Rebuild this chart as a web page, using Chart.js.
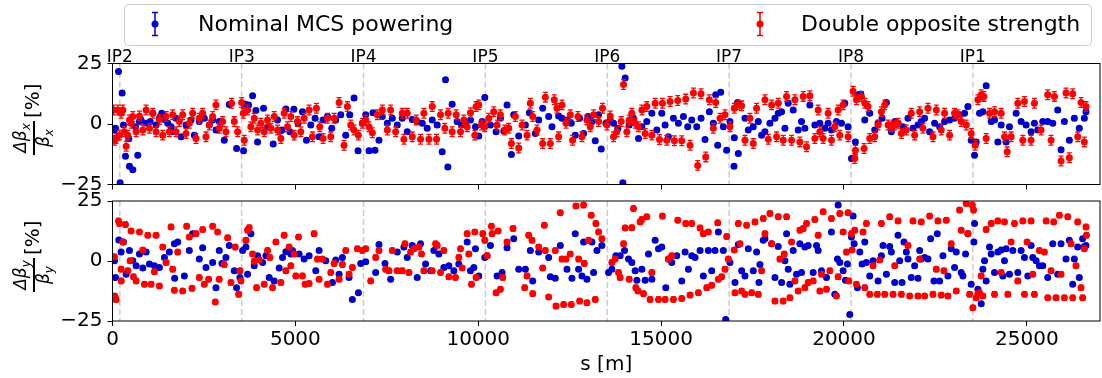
<!DOCTYPE html>
<html>
<head>
<meta charset="utf-8">
<script src="https://cdn.jsdelivr.net/npm/chart.js@4.4.1/dist/chart.umd.min.js"></script>
<style>
  html, body { margin: 0; padding: 0; background: #fff; overflow: hidden; width: 1102px; height: 378px; }
  canvas { position: absolute; left: 0; }
  #topChart { top: 0; }
  #botChart { top: 180px; }
</style>
</head>
<body>
<canvas id="topChart" width="1104" height="215"></canvas>
<canvas id="botChart" width="1104" height="198"></canvas>
<script>
// IP positions along the ring [m] and their labels
const ipLabels = ['IP2', 'IP3', 'IP4', 'IP5', 'IP6', 'IP7', 'IP8', 'IP1'];
const ipPos = [200, 3532, 6864, 10196, 13528, 16860, 20192, 23524];

const seriesNames = ['Nominal MCS powering', 'Double opposite strength'];

// axis ticks
const sTicks = [0, 5000, 10000, 15000, 20000, 25000];
const betaTicks = [-25, 0, 25];

// horizontal beta-beating, [s, value %]
const nominalX = [
  [54,-2.5],[82,-1.8],[164,21.7],[209,-24.3],[264,12.8],[300,-0.4],[355,-13.3],[446,-6.1],[464,-17.5],[555,-18.9],
  [628,-1.1],[691,-12.9],[737,1],[782,1.7],[919,0.3],[1028,1],[1101,4.4],[1192,-0.4],[1283,2.4],[1346,4.4],
  [1419,1.9],[1510,0.3],[1601,-1.1],[1646,-3.2],[1737,2.4],[1874,-5.3],[2010,-0.4],[2147,1.7],[2238,-4.6],[2374,1],
  [2511,2.4],[2647,-0.4],[2738,1.7],[2829,-2.5],[2920,1],[3056,-6.7],[3193,8.1],[3393,-10.1],[3584,-11.1],[3630,8.2],
  [3720,7.9],[3830,11.7],[3920,5.6],[3966,-7.4],[4130,6.5],[4240,-1.1],[4394,-8.3],[4512,1.7],[4630,-2.5],[4740,6.2],
  [4850,-3.2],[4958,6.1],[5076,0.3],[5194,5.1],[5303,-6.7],[5421,-0.4],[5540,2.4],[5650,-5.3],[5758,1.7],[5877,3.1],
  [5995,-1.8],[6104,1.7],[6240,3.8],[6377,-4.6],[6486,3.8],[6604,10.7],[6713,-11.1],[6832,0.3],[6923,3.8],[7014,-11.1],
  [7123,4.7],[7177,-10.8],[7286,-6.7],[7377,3.1],[7514,0.3],[7650,2.4],[7786,-0.4],[7923,2.4],[8059,-3.2],[8196,1.9],
  [8332,1],[8469,0.3],[8605,-1.8],[8742,1.7],[8878,-0.4],[9014,-11.5],[9105,18.3],[9169,-17.8],[9287,8.2],[9424,1],
  [9542,-0.4],[9651,0.3],[9788,1.7],[9924,-1.1],[10015,-5],[10106,1],[10179,11],[10333,-0.4],[10488,-3.2],[10607,2.4],
  [10698,-2.9],[10788,7.9],[10907,-12.6],[10970,3.8],[11107,-5],[11289,-0.4],[11398,4.7],[11562,-3.9],[11653,1.7],[11762,6.5],
  [11925,3.1],[12016,-1.1],[12198,3.3],[12290,2.4],[12426,1.7],[12544,0.3],[12653,-4.6],[12771,2.4],[12881,-3.9],[12999,3.1],
  [13108,1],[13199,-6.9],[13290,3.8],[13363,-10.3],[13490,0.3],[13608,1.7],[13700,0.3],[13818,-1.8],[13927,23.9],[13954,-24.3],
  [14018,19],[14127,-0.4],[14245,2.4],[14382,-6],[14473,-1.1],[14609,1],[14746,4.4],[14882,-2.5],[15018,4.4],[15109,-0.4],
  [15200,-5.3],[15337,2.4],[15473,0.3],[15610,3.1],[15728,-1.1],[15837,1.7],[15974,-1.1],[16092,2.4],[16201,-6.4],[16319,5.1],
  [16428,0.3],[16492,12.1],[16547,-8.8],[16629,13.1],[16701,-1.1],[16792,-10.8],[16883,1],[16992,-17.5],[17001,-5.7],[17092,8.9],
  [17111,-12.2],[17293,2.4],[17384,-2.5],[17520,-1.1],[17657,1],[17748,-4.6],[17839,-3.2],[17975,0.3],[18112,2.4],[18203,4.4],
  [18294,5.1],[18385,-1.8],[18476,8.6],[18612,5.8],[18748,-2.5],[18839,1],[18930,-1.8],[19067,7.9],[19203,-0.4],[19340,0.3],
  [19476,-1.8],[19567,0.3],[19658,-2.5],[19795,1],[19931,0.3],[20022,8.6],[20113,-1.1],[20204,-14.3],[20313,-7.4],[20386,12.1],
  [20459,12.4],[20568,1.7],[20704,4.4],[20841,-2.5],[20932,0.3],[21041,2.4],[21160,8.9],[21296,-3.2],[21387,1],[21478,0.3],
  [21614,-1.1],[21750,2.4],[21887,-1.8],[22023,-0.4],[22114,1],[22205,2.4],[22342,-3.2],[22478,0.3],[22615,-1.1],[22751,1],
  [22888,1.7],[23024,2.4],[23161,3.8],[23297,4.4],[23388,7.2],[23479,-6.7],[23570,-12.9],[23615,-7.4],[23706,4.4],[23797,5.1],
  [23888,15.8],[24025,1],[24116,1.7],[24207,-7.4],[24298,-0.4],[24434,-7.4],[24525,-1.1],[24707,4.4],[24843,1],[24980,-0.4],
  [25116,-3.2],[25207,0.3],[25298,-2.5],[25435,1],[25571,1],[25708,0.3],[25844,5.8],[25935,-10.6],[26026,1],[26162,-6.7],
  [26299,2.4],[26435,-1.8],[26572,2.4],[26617,5.1]
];
const doubleX = [
  [27,5.8],[54,-6.7],[100,-6],[145,5.8],[191,-4.6],[236,4.4],[282,5.8],[327,-3.2],[373,-9.2],[418,-4.6],
  [464,1.7],[509,0.3],[555,3.1],[646,-3.2],[737,3.3],[828,-2.5],[919,5.8],[1010,-1.8],[1101,4.4],[1192,-3.2],
  [1283,1.9],[1374,-4.6],[1465,3.1],[1555,-3.2],[1646,3.8],[1737,-3.2],[1828,1],[1919,3.8],[2010,-3.9],[2101,0.3],
  [2192,4.4],[2283,-6],[2374,2.4],[2465,4.4],[2556,-5.3],[2647,-0.4],[2738,3.1],[2829,7.9],[2920,-1.8],[3011,1],
  [3102,-3.2],[3257,8.6],[3329,1],[3420,-3.2],[3530,8.9],[3575,4.4],[3602,-6.7],[3693,5.8],[3784,-1.1],[3875,2.4],
  [3966,-2.5],[4057,0.3],[4148,-3.2],[4239,1.7],[4330,-1.8],[4421,3.1],[4512,-2.5],[4603,-6],[4694,4.4],[4785,-1.1],
  [4876,3.1],[4967,-4.6],[5058,1],[5149,-3.2],[5240,2.4],[5376,5.8],[5467,-5.3],[5576,6.5],[5667,-1.1],[5758,-6],
  [5877,2.4],[5968,-5.3],[6059,2.4],[6195,8.9],[6331,-8.8],[6422,7.2],[6513,-0.4],[6604,-2.5],[6722,-4.6],[6832,0.3],
  [6923,1.7],[7014,-1.1],[7105,-3.6],[7241,3.8],[7377,5.8],[7514,-2.5],[7604,5.8],[7741,-3.2],[7923,4.4],[7968,-6.3],
  [8059,4.4],[8196,-5.3],[8305,1.7],[8423,-6.3],[8514,4.4],[8651,-6.3],[8742,7.2],[8860,-6.3],[8969,3.8],[9087,-1.8],
  [9178,4.4],[9287,-3.2],[9397,3.8],[9515,-3.2],[9606,1.7],[9697,-1.1],[9788,4.7],[9906,-4.6],[9942,7.2],[10015,7.9],
  [10088,-0.4],[10179,-1.1],[10288,2.4],[10424,5.1],[10515,-0.4],[10607,3.8],[10725,-2.5],[10834,-1.8],[10907,-8.1],[11016,3.1],
  [11107,-9.9],[11198,-0.4],[11334,-4.6],[11425,8.6],[11489,3.1],[11607,-2.5],[11762,-8.1],[11835,11.1],[11971,-8.1],[12080,10],
  [12153,6.5],[12198,-5.3],[12290,7.9],[12399,0.3],[12517,3.8],[12580,-6.7],[12726,3.1],[12835,-5.3],[12972,1.7],[13063,-1.1],
  [13154,3.8],[13290,1],[13399,6.5],[13518,-0.4],[13608,3.3],[13700,-5.3],[13790,-3.2],[13909,1],[13973,16.3],[14063,-3.2],
  [14127,1.7],[14200,4.4],[14291,0.3],[14382,-1.1],[14473,5.8],[14564,-3.9],[14609,7.2],[14746,-4.6],[14837,8.6],[14955,-6.4],
  [15037,8.6],[15155,-6.7],[15246,9.3],[15364,-6.9],[15455,9.7],[15564,-6.9],[15673,10.3],[15792,-8.8],[15883,12.8],[16001,-17.1],
  [16092,12.5],[16219,-13.6],[16319,10],[16428,-1.8],[16492,8.9],[16611,2.4],[16747,3.8],[16883,-1.1],[17001,6.5],[17092,7.9],
  [17201,7.5],[17293,-6.7],[17429,2.4],[17520,-8.1],[17611,6.5],[17839,10],[17930,-6.3],[18021,7.9],[18157,-5.3],[18203,8.6],
  [18339,-6.7],[18430,11.4],[18567,-6.7],[18658,10],[18794,-7.4],[18885,11.4],[18976,-9.4],[19067,11.7],[19203,-6],[19294,5.8],
  [19340,-3.2],[19431,-6],[19567,4.4],[19658,-6.7],[19749,-1.1],[19840,5.8],[19886,-4.6],[19977,7.9],[20113,-5.3],[20249,13.5],
  [20295,-14.3],[20313,-10.8],[20340,10],[20477,11.4],[20550,-10.1],[20568,8.6],[20659,7.2],[20704,-6],[20841,-5.3],[20932,-0.4],
  [21023,5.1],[21114,7.9],[21205,-0.4],[21296,-1.1],[21387,-0.4],[21478,0.3],[21569,-3.9],[21705,-2.5],[21841,4.4],[21932,-4.6],
  [22069,5.1],[22160,-1.8],[22296,6.5],[22433,-5.3],[22524,5.8],[22660,-2.5],[22751,4.4],[22888,-4.6],[23024,4.4],[23115,3.8],
  [23206,1],[23343,-0.4],[23479,-3.9],[23588,-8.8],[23661,10],[23752,12.1],[23825,11.4],[23888,-6],[23979,4.4],[24116,5.1],
  [24298,4.4],[24389,-5.3],[24462,-11.5],[24570,-5.3],[24752,8.6],[24889,-6.7],[24934,9.3],[25116,-6.7],[25207,8.6],[25389,-2.5],
  [25571,12.1],[25662,-6.7],[25753,11.4],[25935,-15.3],[26071,12.8],[26162,-13.9],[26253,12.5],[26390,-5.3],[26481,8.9],[26572,-7.4],
  [26617,7.2]
];

// vertical beta-beating, [s, value %]
const nominalY = [
  [54,0.1],[82,-6.9],[173,8.8],[236,3.7],[300,7.9],[373,-5.5],[464,4.4],[555,0.1],[646,-2],[737,2.9],
  [828,-2.9],[919,3.7],[1010,-1.3],[1146,-2],[1283,-2.7],[1419,1.5],[1555,3.7],[1692,7.2],[1700,-7.2],[1783,7.9],
  [1965,-6.2],[2101,4.4],[2192,11.4],[2374,0.8],[2465,5.5],[2556,-2.7],[2738,-0.6],[2829,-11.1],[2920,4.4],[2993,-1],
  [3102,1.5],[3193,6.5],[3329,-4.1],[3393,-11.1],[3484,-6.9],[3557,4.4],[3648,5.8],[3693,-5.5],[3784,11.4],[3875,-2],
  [3966,2.2],[4103,-0.6],[4194,2.2],[4285,-6.9],[4421,-8.3],[4558,-2.9],[4649,1.5],[4740,3.9],[4876,2.9],[4921,4.4],
  [5103,2.9],[5240,0.8],[5376,2.2],[5558,-4.1],[5649,4.4],[5831,0.1],[6013,-9],[6104,0.4],[6195,-5.5],[6286,1.5],
  [6468,-6.9],[6559,-16],[6723,-13.2],[6786,-1],[6923,-0.3],[7196,-4.8],[7286,6.9],[7450,-1],[7605,-7.6],[7786,3.7],
  [7968,5.8],[8059,1.5],[8196,6.5],[8332,-6.9],[8423,7.2],[8560,-1.3],[8696,-4.1],[8787,4.4],[8923,2.9],[9060,-2.7],
  [9196,-2],[9333,-4.1],[9469,-1.3],[9697,7.9],[9788,-4.1],[9879,-2.7],[9924,5.1],[10015,-6.2],[10179,1.5],[10243,2.2],
  [10333,6.5],[10515,-6.2],[10652,-4.8],[10788,5.5],[10970,9.3],[11107,-3.4],[11289,-3.4],[11425,4.4],[11489,-8.3],[11653,3.7],
  [11925,1.5],[11971,-6.6],[12107,-7.2],[12244,6.5],[12426,-3.4],[12562,-7.2],[12653,11.4],[12744,-3.4],[12835,-6.2],[12881,7.9],
  [12972,-7.6],[13108,7.9],[13154,-4.8],[13245,4.4],[13381,6.5],[13563,-4.8],[13654,-3.4],[13763,2.2],[13881,2.2],[14000,4.4],
  [14109,0.8],[14200,-0.6],[14291,-4.1],[14336,-8],[14473,-3.4],[14564,-8],[14655,2.9],[14746,-7.6],[14837,8.6],[14928,5.1],
  [15018,5.8],[15128,-11.1],[15200,0.8],[15291,-0.6],[15428,2.2],[15564,-8.3],[15655,3.7],[15746,-3.4],[15837,2.2],[15928,1.5],
  [16065,4.4],[16155,-6.2],[16292,4.4],[16383,-4.1],[16474,4.4],[16565,12.1],[16701,4.4],[16765,-24.4],[16883,-0.6],[17020,-9],
  [17111,6.9],[17202,-4.1],[17293,-6.2],[17384,5.1],[17520,-4.1],[17611,3.7],[17675,-9],[17702,-1.5],[17793,8.6],[17839,9.3],
  [18021,7.2],[18112,-6.9],[18203,6],[18294,-9],[18385,0.1],[18430,11.4],[18476,-3.4],[18521,-9.7],[18612,4.4],[18703,-5.5],
  [18794,7.2],[18839,-4.8],[18930,5.8],[19021,6.5],[19158,-4.8],[19249,6.5],[19294,4.4],[19385,-4.1],[19522,-6.9],[19658,12.1],
  [19749,-13.9],[19822,0.8],[19840,23.3],[19886,-0.6],[19977,-4.1],[20040,-8],[20095,-1.3],[20158,-22.3],[20204,10],[20249,18.7],
  [20277,7.2],[20368,-11.1],[20432,3.7],[20495,-1.3],[20568,7.9],[20613,-0.6],[20704,-6.2],[20795,0.1],[20932,-8.3],[21023,2.2],
  [21068,6.5],[21159,-5.5],[21250,6],[21296,3.7],[21387,-9],[21478,10.7],[21523,0.1],[21587,-9],[21641,7.9],[21705,3.7],
  [21750,0.8],[21841,-6.9],[21932,-2],[22023,-7.2],[22069,4.4],[22114,0.8],[22205,1.5],[22296,0.8],[22369,9.3],[22460,-8.3],
  [22551,11.4],[22615,-8.3],[22706,2.2],[22842,-6.2],[22933,5.1],[23024,-2.7],[23070,3.7],[23206,-4.8],[23252,-6.2],[23324,2.9],
  [23388,11.4],[23479,-9.7],[23552,7.9],[23570,15.6],[23661,-11.8],[23752,-17.8],[23797,-3.4],[23843,0.1],[23888,-8.3],[23979,5.8],
  [24025,2.9],[24116,-4.8],[24207,3.7],[24298,4.6],[24343,-6.2],[24389,0.1],[24434,5.1],[24525,-5.5],[24616,4.4],[24752,-4.8],
  [24843,4.4],[24934,1.5],[25025,-6.2],[25116,6.5],[25162,1.5],[25253,0.1],[25344,-2],[25435,-2],[25571,-6.9],[25708,7.2],
  [25844,-5.5],[25935,7.2],[26071,0.8],[26162,8.6],[26253,-9.7],[26299,0.8],[26390,5.8],[26435,-6.9],[26526,9.3],[26572,6],
  [26617,6.5]
];
const doubleY = [
  [54,1.8],[60,-14.6],[100,-16],[164,16.7],[191,15.6],[236,-3.4],[240,-8.3],[282,7.9],[355,15.2],[418,-4.1],
  [482,0.1],[509,12.5],[573,-6.6],[646,-8.3],[737,12.1],[828,4.6],[873,-9.7],[964,10.7],[1055,-9.7],[1146,-4.5],
  [1192,10.7],[1283,-10.4],[1374,5.8],[1465,-0.6],[1601,14.2],[1646,-3.4],[1692,-12.2],[1783,3.7],[1919,-12.5],[2028,14.5],
  [2101,10],[2174,-11.4],[2283,11.4],[2374,-6.9],[2465,13.1],[2511,-9.7],[2629,-7.6],[2738,14.5],[2811,-17.1],[2874,12.1],
  [2920,-7.6],[3056,-1.5],[3147,9.7],[3238,-9],[3357,5.8],[3448,-13.9],[3484,-4.1],[3511,-8.3],[3648,8.6],[3693,12.8],
  [3739,13.9],[3830,2.9],[3875,-0.1],[3939,-11.1],[4012,0.4],[4148,-9.7],[4239,4.4],[4303,1.5],[4376,-11.1],[4467,7.9],
  [4603,-9],[4694,10.7],[4740,-4.1],[4830,5.8],[4876,-2],[4967,2.9],[5012,-6.2],[5085,10],[5194,-6.2],[5267,-9.7],
  [5376,-9.4],[5513,11.4],[5604,0.8],[5649,-7.6],[5740,0.8],[5877,-9.7],[5968,-4.8],[6059,-1],[6195,-7.6],[6286,-1.5],
  [6377,4.4],[6468,-5.5],[6559,-2.7],[6695,5.1],[6832,4.4],[6923,5.1],[7059,-8.3],[7196,1.5],[7286,4.4],[7468,-3.4],
  [7559,-4.1],[7650,4.4],[7786,-4.1],[7923,-4.1],[7996,7.2],[8105,-4.8],[8150,3.7],[8241,5.1],[8378,5.8],[8450,2.9],
  [8514,-4.1],[8742,-4.1],[8833,7.2],[8878,6.5],[8969,-4.8],[9060,4.4],[9196,-6.6],[9378,-6.9],[9469,1.5],[9515,5.1],
  [9560,-2.9],[9697,11.4],[9742,2.9],[9815,-9.7],[9906,12.1],[9942,-6.9],[10124,11.4],[10179,8.6],[10243,2.2],[10361,14.5],
  [10379,11.4],[10488,-13.2],[10543,12.5],[10607,-11.8],[10670,-6.9],[10788,7.9],[10952,13.5],[11270,-11.1],[11334,-6.2],[11380,10.7],
  [11471,8.6],[11489,-13.6],[11653,5.8],[11762,-2.9],[11807,14.9],[11835,4.4],[11925,-15],[12107,4.4],[12126,-18.8],[12244,20.1],
  [12290,0.8],[12335,-18.1],[12399,0.8],[12517,2.9],[12544,-18.1],[12671,22.9],[12744,0.8],[12772,-16.7],[12881,23.3],[12900,-1],
  [12972,-17.4],[13017,8.6],[13090,19.1],[13199,-16],[13217,15.6],[13290,12.1],[13381,9.3],[13654,-0.6],[13745,0.8],[13836,-4.8],
  [13881,-6.9],[13973,7.2],[14018,13.8],[14127,-7.6],[14200,13.9],[14245,21.9],[14309,-11.1],[14364,-12.5],[14427,16.3],[14473,17.3],
  [14518,-13.6],[14609,18.4],[14700,-16],[14746,-4.8],[14928,-16],[15037,18.7],[15109,-16],[15200,0.8],[15291,2.2],[15337,-16],
  [15455,17],[15564,-15.6],[15673,15.6],[15792,-14.2],[15837,15.6],[16019,-13.2],[16065,13.8],[16155,11.4],[16247,-11.1],[16292,12.1],
  [16383,-10.1],[16547,15.9],[16565,-7.6],[16656,-6.6],[16747,-3.4],[16792,10.2],[16838,0.8],[17001,4.6],[17020,-13.2],[17111,15.6],
  [17156,7.2],[17202,-12.5],[17293,-13.9],[17338,14.9],[17475,-13.2],[17566,16.3],[17657,-13.9],[17748,-4.1],[17793,17.7],[17839,11.4],
  [17975,19.8],[18021,7.2],[18112,-16.7],[18203,18.4],[18248,0.8],[18339,-16.7],[18366,2.9],[18430,18.4],[18521,-15.3],[18567,7.9],
  [18658,-8.3],[18748,-12.5],[18794,12.8],[18885,13.5],[18930,-11.1],[18976,15.6],[19021,-9],[19158,-8.3],[19203,17.3],[19294,10.7],
  [19340,-12.5],[19385,-5.5],[19431,20.5],[19522,-11.8],[19613,-4.1],[19658,17.7],[19795,-14.6],[19840,-6.6],[19886,19.8],[19977,12.1],
  [20068,3.7],[20113,20.1],[20131,-8.3],[20204,11.4],[20222,4.6],[20295,12.8],[20340,-9.7],[20522,12.1],[20568,-11.1],[20613,15.6],
  [20704,-13.9],[20795,-2],[20913,-13.9],[20977,0.4],[21023,15.6],[21114,-13.9],[21250,18.4],[21341,-13.9],[21387,-2],[21478,16.7],
  [21569,-13.9],[21750,6.5],[21796,-14.6],[21887,16.7],[22023,-14.6],[22069,0.8],[22114,16.3],[22205,-14.6],[22342,18.7],[22433,-13.9],
  [22524,-3.4],[22569,16.7],[22660,-14.2],[22733,-4.1],[22797,17],[22842,-14.6],[22933,7.2],[23070,-12.5],[23161,21.2],[23206,12.8],
  [23343,24],[23388,11.4],[23434,-13.9],[23510,23.3],[23543,21.2],[23524,-19.5],[23615,-15.3],[23661,-13.6],[23706,-13.2],[23752,-6.2],
  [23797,-14.6],[23888,13.1],[24025,15.6],[24116,-13.9],[24207,16.7],[24298,-4.8],[24389,16.3],[24480,-13.9],[24570,7.9],[24662,15.6],
  [24752,-8.3],[24889,16.7],[24934,-13.9],[25007,7.9],[25116,16.7],[25162,-5.5],[25207,-13.9],[25344,4.4],[25480,3.7],[25526,16.7],
  [25571,-15.3],[25662,-4.1],[25735,16.3],[25799,-15.3],[25890,19.1],[25935,-5.5],[26026,-15.3],[26117,18.4],[26208,7.2],[26253,-15.3],
  [26344,-2],[26390,16.3],[26481,-11.1],[26526,-15.3],[26572,5.1],[26617,14.2],[26630,10.7]
];

// typical error bar half-heights [%]
const errNominalX = 0.8, errDoubleX = 2.0, errNominalY = 0.7, errDoubleY = 1.0;

const FONT = 'DejaVu Sans';
const BLUE = '#0000cd';
const RED = '#ff0000';

function toXY(arr) {
  return arr.map(p => ({ x: p[0], y: p[1] }));
}

const errorBars = {
  id: 'errorBars',
  beforeDatasetDraw(chart, args) {
    const ds = chart.data.datasets[args.index];
    const ctx = chart.ctx, ys = chart.scales.y, a = chart.chartArea;
    ctx.save();
    ctx.beginPath();
    ctx.rect(a.left, a.top, a.width, a.height);
    ctx.clip();
    ctx.strokeStyle = ds.backgroundColor;
    ctx.lineWidth = 1.3;
    ctx.beginPath();
    args.meta.data.forEach((el, i) => {
      const p = ds.data[i];
      const y1 = ys.getPixelForValue(p.y - ds.err);
      const y2 = ys.getPixelForValue(p.y + ds.err);
      ctx.moveTo(el.x, y1); ctx.lineTo(el.x, y2);
      ctx.moveTo(el.x - 2.5, y1); ctx.lineTo(el.x + 2.5, y1);
      ctx.moveTo(el.x - 2.5, y2); ctx.lineTo(el.x + 2.5, y2);
    });
    ctx.stroke();
    ctx.restore();
  }
};

const ipLines = {
  id: 'ipLines',
  beforeDatasetsDraw(chart) {
    const ctx = chart.ctx, a = chart.chartArea, xs = chart.scales.x;
    ctx.save();
    ctx.strokeStyle = 'rgba(170,170,170,0.6)';
    ctx.lineWidth = 1.5;
    ctx.setLineDash([6, 3]);
    ipPos.forEach(s => {
      const x = xs.getPixelForValue(s);
      ctx.beginPath();
      ctx.moveTo(x, a.top);
      ctx.lineTo(x, a.bottom);
      ctx.stroke();
    });
    ctx.restore();
  }
};

const frame = {
  id: 'frame',
  afterDraw(chart) {
    const ctx = chart.ctx, a = chart.chartArea;
    ctx.save();
    ctx.strokeStyle = '#000';
    ctx.lineWidth = 1;
    ctx.strokeRect(a.left, a.top, a.width, a.height);
    ctx.restore();
  }
};

function drawYLabel(ctx, cx, cy, sub) {
  ctx.save();
  ctx.translate(cx, cy);
  ctx.rotate(-Math.PI / 2);
  ctx.fillStyle = '#000';
  ctx.textBaseline = 'alphabetic';
  ctx.textAlign = 'left';
  const mid = -16;
  const big = 'italic 17px "' + FONT + '"';
  const small = 'italic 12px "' + FONT + '"';
  // numerator
  ctx.font = big;
  const wn = ctx.measureText('\u0394\u03b2').width;
  ctx.font = small;
  const ws = ctx.measureText(sub).width;
  let x0 = mid - (wn + ws) / 2;
  ctx.font = big;
  ctx.fillText('\u0394\u03b2', x0, -8);
  ctx.font = small;
  ctx.fillText(sub, x0 + wn, -4);
  // denominator
  ctx.font = big;
  const wd = ctx.measureText('\u03b2').width;
  x0 = mid - (wd + ws) / 2;
  ctx.fillText('\u03b2', x0, 15);
  ctx.font = small;
  ctx.fillText(sub, x0 + wd, 19);
  // bar
  ctx.fillRect(mid - 17, -1, 34, 2);
  // [%]
  ctx.font = '20px "' + FONT + '"';
  ctx.fillText('[%]', 4, 5);
  ctx.restore();
}

const yLabel = {
  id: 'yLabel',
  afterDraw(chart, args, opts) {
    const a = chart.chartArea;
    drawYLabel(chart.ctx, 34, (a.top + a.bottom) / 2 - 2, opts.sub);
  }
};

function errMarker(ctx, x, y, color) {
  ctx.strokeStyle = color;
  ctx.fillStyle = color;
  ctx.lineWidth = 1.5;
  ctx.beginPath();
  ctx.moveTo(x, y - 11.5); ctx.lineTo(x, y + 11.5);
  ctx.moveTo(x - 3, y - 11.5); ctx.lineTo(x + 3, y - 11.5);
  ctx.moveTo(x - 3, y + 11.5); ctx.lineTo(x + 3, y + 11.5);
  ctx.stroke();
  ctx.beginPath();
  ctx.arc(x, y, 3.5, 0, Math.PI * 2);
  ctx.fill();
}

const headerDecor = {
  id: 'headerDecor',
  afterDraw(chart) {
    const ctx = chart.ctx, xs = chart.scales.x, a = chart.chartArea;
    ctx.save();
    // legend box
    ctx.fillStyle = 'rgba(255,255,255,0.8)';
    ctx.strokeStyle = '#cccccc';
    ctx.lineWidth = 1;
    ctx.beginPath();
    ctx.roundRect(124.5, 4.5, 967, 41, 4);
    ctx.fill();
    ctx.stroke();
    errMarker(ctx, 155, 24, BLUE);
    errMarker(ctx, 760, 24, RED);
    ctx.fillStyle = '#000';
    ctx.font = '22px "' + FONT + '"';
    ctx.textBaseline = 'middle';
    ctx.textAlign = 'left';
    ctx.fillText(seriesNames[0], 198, 25);
    ctx.fillText(seriesNames[1], 801, 25);
    // IP labels
    ctx.font = '17px "' + FONT + '"';
    ctx.textAlign = 'center';
    ctx.textBaseline = 'alphabetic';
    ipPos.forEach((s, i) => {
      ctx.fillText(ipLabels[i], xs.getPixelForValue(s), a.top - 2);
    });
    ctx.restore();
  }
};

function tickText(v) {
  return v < 0 ? '\u2212' + Math.abs(v) : String(v);
}

function makePanel(canvasId, blueData, redData, errB, errR, sub, isBottom) {
  const ctx = document.getElementById(canvasId).getContext('2d');
  const plugins = [ipLines, errorBars, frame, yLabel];
  if (!isBottom) plugins.push(headerDecor);
  return new Chart(ctx, {
    type: 'scatter',
    data: {
      datasets: [
        {
          label: seriesNames[0],
          data: toXY(blueData),
          err: errB,
          backgroundColor: BLUE,
          borderWidth: 0,
          pointRadius: 3.5,
          order: 1,
          clip: 0
        },
        {
          label: seriesNames[1],
          data: toXY(redData),
          err: errR,
          backgroundColor: RED,
          borderWidth: 0,
          pointRadius: 3.5,
          order: 0,
          clip: 0
        }
      ]
    },
    options: {
      responsive: false,
      animation: false,
      events: [],
      layout: { padding: { top: isBottom ? 21 : 63.5, right: 1, left: 0, bottom: 0 } },
      plugins: {
        legend: { display: false },
        tooltip: { enabled: false },
        yLabel: { sub: sub }
      },
      scales: {
        x: {
          type: 'linear',
          min: 0,
          max: 27000,
          afterBuildTicks: s => { s.ticks = sTicks.map(v => ({ value: v })); },
          ticks: {
            display: isBottom,
            maxRotation: 0,
            autoSkip: false,
            color: '#000',
            padding: 2,
            font: { family: FONT, size: 20 },
            callback: v => tickText(v)
          },
          grid: { drawOnChartArea: false, drawTicks: true, tickLength: 5, color: '#000' },
          border: { display: false },
          title: {
            display: isBottom,
            text: 's [m]',
            color: '#000',
            font: { family: FONT, size: 20 },
            padding: { top: 0, bottom: 1 }
          },
          afterFit: s => { s.height = isBottom ? 57 : 30.5; }
        },
        y: {
          min: -25,
          max: 25,
          afterBuildTicks: s => { s.ticks = betaTicks.map(v => ({ value: v })); },
          ticks: {
            color: '#000',
            padding: 5,
            autoSkip: false,
            font: { family: FONT, size: 20 },
            callback: v => tickText(v)
          },
          grid: { drawOnChartArea: false, drawTicks: true, tickLength: 5, color: '#000' },
          border: { display: false },
          afterFit: s => { s.width = 112.5; }
        }
      }
    },
    plugins: plugins
  });
}

makePanel('topChart', nominalX, doubleX, errNominalX, errDoubleX, 'x', false);
makePanel('botChart', nominalY, doubleY, errNominalY, errDoubleY, 'y', true);
</script>
</body>
</html>
